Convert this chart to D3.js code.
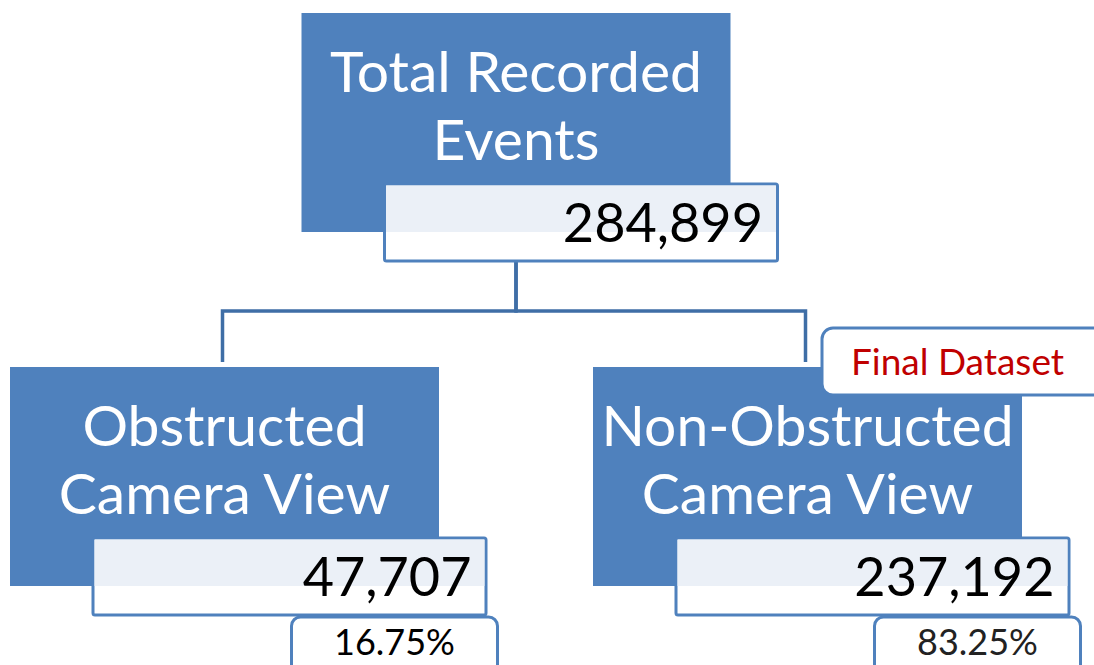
<!DOCTYPE html>
<html>
<head>
<meta charset="utf-8">
<script src="https://cdn.jsdelivr.net/npm/d3@7"></script>
<style>
  body { margin: 0; background: #fff; }
  svg text { font-family: Lato, "Open Sans", sans-serif; }
</style>
</head>
<body>
<div id="chart"></div>
<script>
// data
const nodeNames = ['Total Recorded Events', 'Obstructed Camera View', 'Non-Obstructed Camera View'];
const nodeLines = [['Total Recorded', 'Events'], ['Obstructed', 'Camera View'], ['Non-Obstructed', 'Camera View']];
const nodeCounts = [284899, 47707, 237192];
const nodeShares = [null, '16.75%', '83.25%'];
const finalTag = 'Final Dataset';
const finalNode = 'Non-Obstructed Camera View';

const totalWidth = 1094;
const totalHeight = 665;
const blue = '#4f81bd';
const lineBlue = '#3f6ea6';

const boxW = 429, boxH = 219;

const svg = d3.select('#chart').append('svg')
    .attr('width', totalWidth)
    .attr('height', totalHeight);

let root = d3.hierarchy({
  name: nodeNames[0],
  children: [{name: nodeNames[1]}, {name: nodeNames[2]}]
});
root.each(function(d) {
  let i = nodeNames.indexOf(d.data.name);
  d.data.lines = nodeLines[i];
  d.data.count = nodeCounts[i];
  d.data.share = nodeShares[i];
});

// siblings one nodeSize apart, root centred over them
d3.tree().nodeSize([583, 354]).separation(function() { return 1; })(root);

let g = svg.append('g')
    .attr('transform', 'translate(516,13)');

// connectors
g.selectAll('.link')
  .data(root.links())
  .enter().append('path')
    .attr('class', 'link')
    .attr('fill', 'none')
    .attr('stroke', lineBlue)
    .attr('stroke-width', 3.5)
    .attr('d', function(d) {
      let midY = d.source.y + 249 + 49;
      return 'M' + d.source.x + ',' + (d.source.y + 249) +
        'V' + midY + 'H' + (d.target.x - 2) + 'V' + (d.target.y - 5);
    });

let node = g.selectAll('.node')
  .data(root.descendants())
  .enter().append('g')
    .attr('class', 'node')
    .attr('transform', function(d) {
      return 'translate(' + d.x + ',' + d.y + ')';
    });

node.append('rect')
    .attr('x', -boxW / 2)
    .attr('y', 0)
    .attr('width', boxW)
    .attr('height', boxH)
    .attr('fill', blue);

node.append('text')
    .attr('fill', '#fff')
    .attr('text-anchor', 'middle')
    .attr('font-size', 57)
  .selectAll('tspan')
  .data(function(d) { return d.data.lines; })
  .enter().append('tspan')
    .attr('x', 0)
    .attr('y', function(d, i) { return 79 + i * 68; })
    .text(function(d) { return d; });

// value box
node.append('rect')
    .attr('x', -131.5)
    .attr('y', 171)
    .attr('width', 393)
    .attr('height', 77)
    .attr('rx', 2)
    .attr('fill', '#fff')
    .attr('stroke', blue)
    .attr('stroke-width', 3);

node.append('rect')
    .attr('x', -130)
    .attr('y', 172.5)
    .attr('width', 390)
    .attr('height', 46.5)
    .attr('fill', '#e9eef6')
    .attr('opacity', 0.9);

node.append('text')
    .attr('x', 247)
    .attr('y', 229)
    .attr('text-anchor', 'end')
    .attr('font-size', 54)
    .attr('fill', '#000')
    .text(function(d) { return d3.format(',')(d.data.count); });

// share boxes
let shared = node.filter(function(d) { return d.data.share; });

shared.append('rect')
    .attr('x', 67)
    .attr('y', 250)
    .attr('width', 206)
    .attr('height', 60)
    .attr('rx', 9)
    .attr('fill', '#fff')
    .attr('stroke', blue)
    .attr('stroke-width', 3);

shared.append('text')
    .attr('x', 170)
    .attr('y', 288)
    .attr('text-anchor', 'middle')
    .attr('font-size', 36)
    .attr('fill', function(d, i) { return i ? '#222' : '#000'; })
    .text(function(d) { return d.data.share; });

// final dataset tag
let fin = node.filter(function(d) { return d.data.name === finalNode; });

fin.append('rect')
    .attr('x', 14.5)
    .attr('y', -39)
    .attr('width', 300)
    .attr('height', 67)
    .attr('rx', 11)
    .attr('fill', '#fff')
    .attr('stroke', blue)
    .attr('stroke-width', 3);

fin.append('text')
    .attr('x', 150)
    .attr('y', 8)
    .attr('text-anchor', 'middle')
    .attr('font-size', 37)
    .attr('fill', '#c00000')
    .text(finalTag);
</script>
</body>
</html>
